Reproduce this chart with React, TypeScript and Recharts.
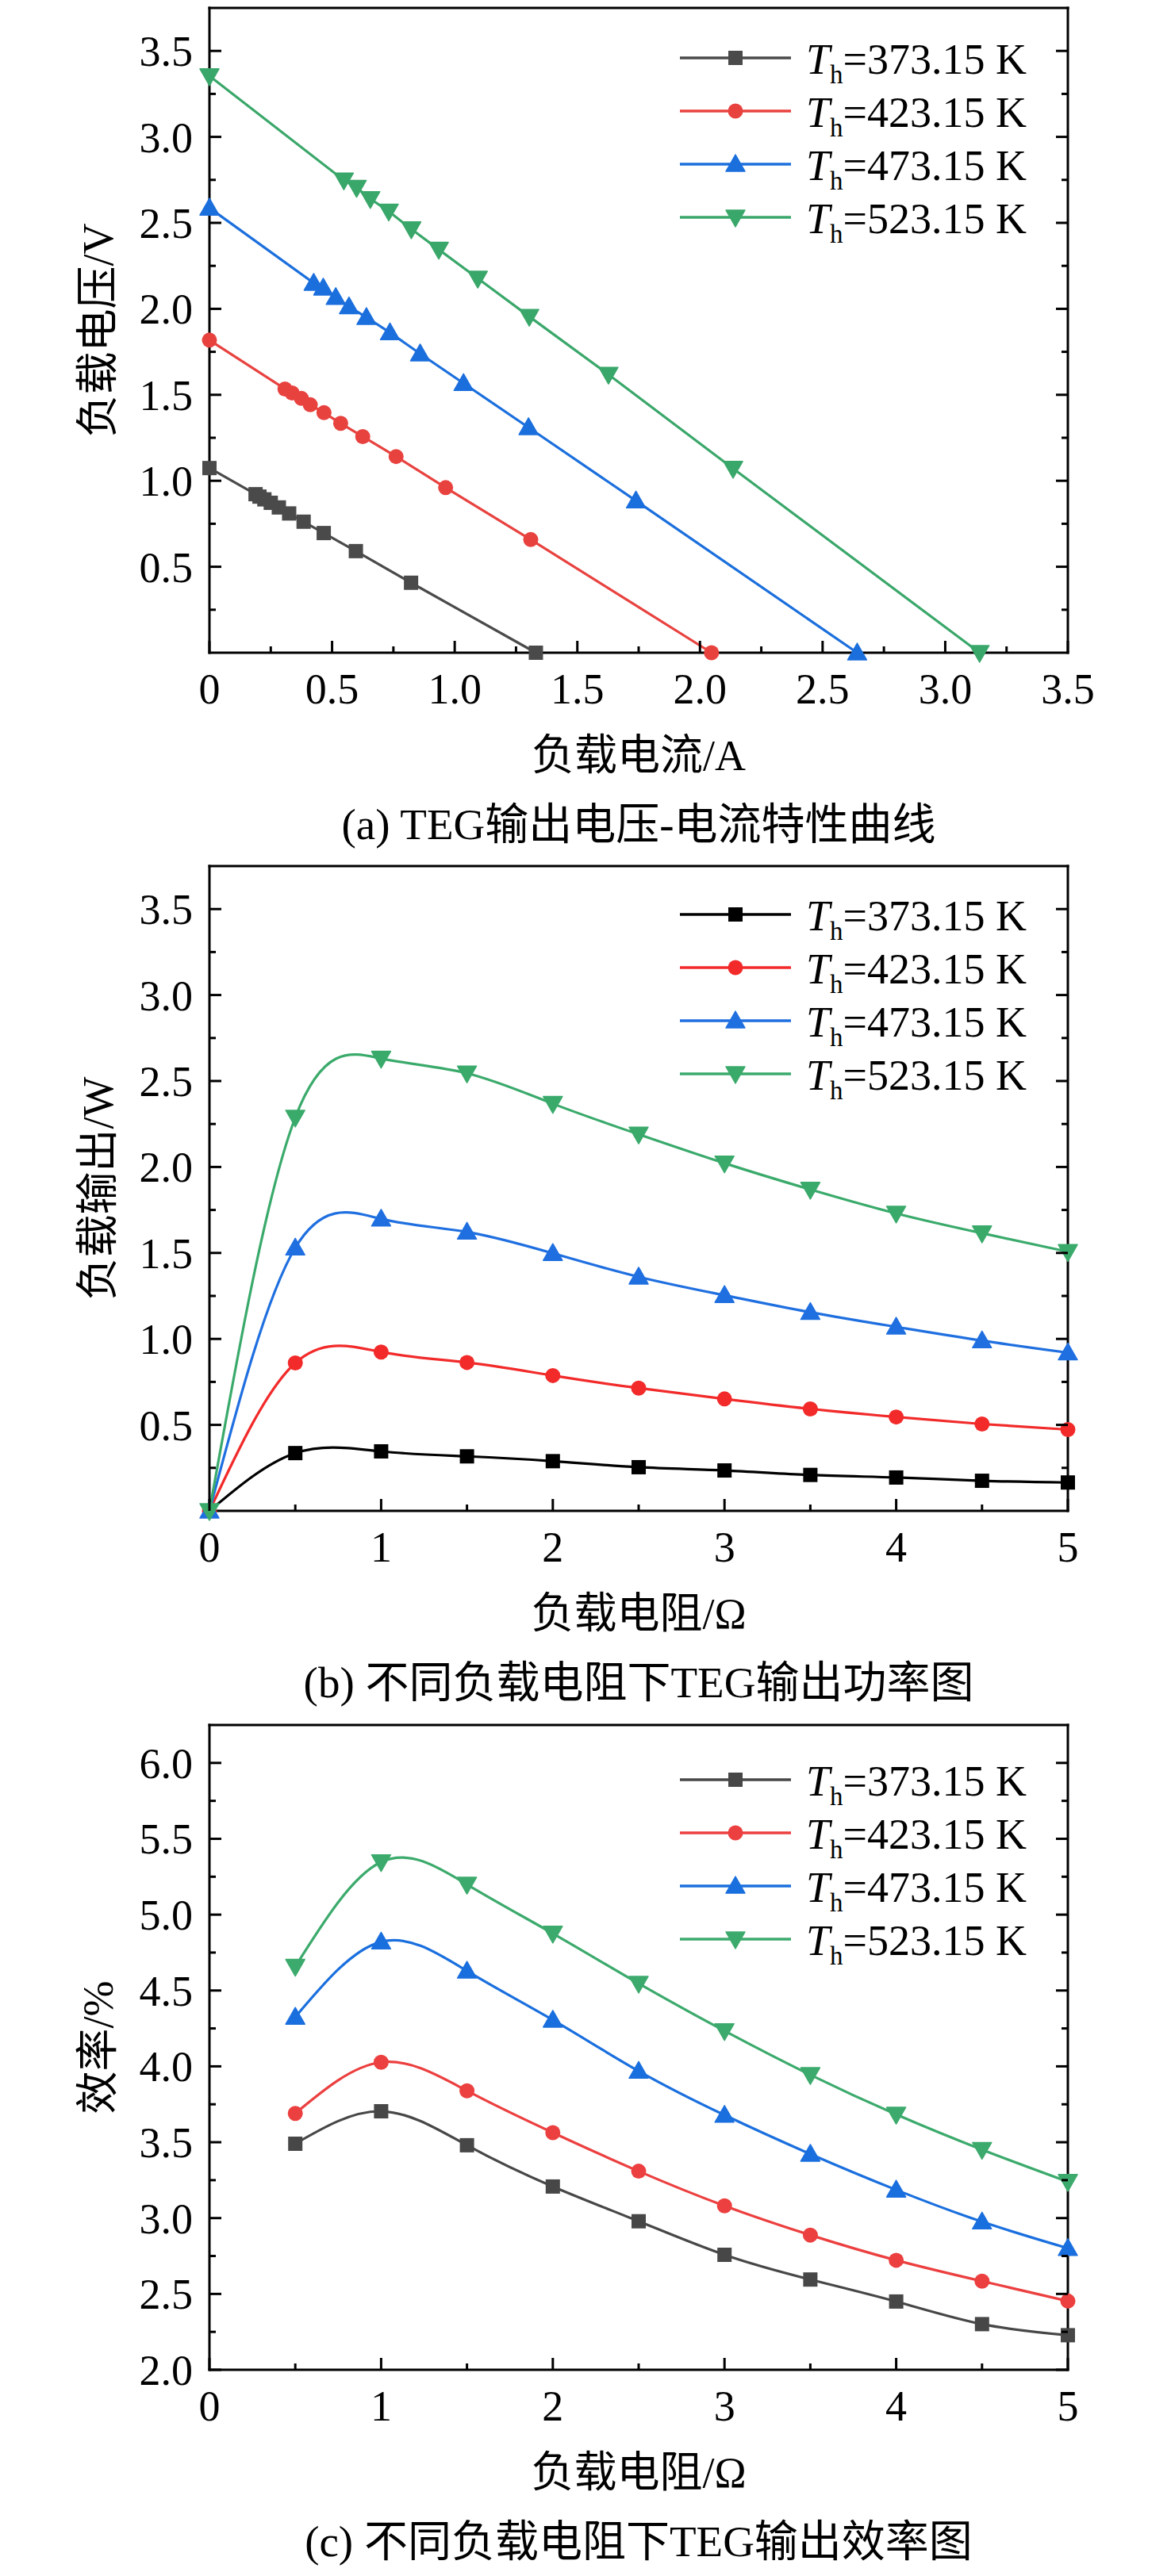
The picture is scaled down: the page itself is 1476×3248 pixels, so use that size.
import React from 'react';
import { LineChart, Line, XAxis, YAxis, Legend, Label } from 'recharts';

const FONT_LATIN = "'Liberation Serif', 'Times New Roman', serif";
const FONT_MIX = "'Liberation Serif', 'Noto Sans CJK SC', serif";

const seriesNames = ['373.15', '423.15', '473.15', '523.15'];
const shapes = ['square', 'circle', 'triUp', 'triDown'];
const colorsA = ['#4a4a4a', '#e8423f', '#1b6fdd', '#3aa76a'];
const colorsB = ['#000000', '#f22a2a', '#1f6fe0', '#3aaa6b'];
const colorsC = ['#474747', '#ec3f3f', '#1a6fde', '#3caa6c'];

// Panel (a): load current (A) vs load voltage (V)
const aCurrent373 = [0, 0.188, 0.204, 0.224, 0.25, 0.283, 0.325, 0.384, 0.466, 0.597, 0.822, 1.331];
const aVoltage373 = [1.074, 0.922, 0.908, 0.892, 0.872, 0.845, 0.81, 0.762, 0.696, 0.591, 0.407, 0];
const aCurrent423 = [0, 0.308, 0.337, 0.375, 0.411, 0.467, 0.535, 0.625, 0.761, 0.963, 1.31, 2.047];
const aVoltage423 = [1.818, 1.534, 1.511, 1.479, 1.442, 1.396, 1.334, 1.257, 1.141, 0.96, 0.658, 0];
const aCurrent473 = [0, 0.425, 0.464, 0.515, 0.569, 0.64, 0.736, 0.859, 1.036, 1.301, 1.739, 2.641];
const aVoltage473 = [2.587, 2.15, 2.122, 2.067, 2.013, 1.951, 1.862, 1.739, 1.567, 1.31, 0.884, 0];
const aCurrent523 = [0, 0.548, 0.6, 0.656, 0.731, 0.823, 0.935, 1.094, 1.304, 1.627, 2.135, 3.14];
const aVoltage523 = [3.354, 2.748, 2.705, 2.64, 2.567, 2.464, 2.345, 2.177, 1.955, 1.618, 1.071, 0];

// Panel (b): load resistance vs output power
const bResistance = [0, 0.5, 1, 1.5, 2, 2.5, 3, 3.5, 4, 4.5, 5];
const bPower373 = [0, 0.336, 0.346, 0.317, 0.289, 0.254, 0.235, 0.209, 0.194, 0.175, 0.165];
const bPower423 = [0, 0.86, 0.924, 0.863, 0.787, 0.714, 0.651, 0.593, 0.546, 0.505, 0.473];
const bPower473 = [0, 1.53, 1.698, 1.622, 1.498, 1.361, 1.254, 1.155, 1.07, 0.99, 0.92];
const bPower523 = [0, 2.288, 2.631, 2.545, 2.368, 2.19, 2.022, 1.869, 1.73, 1.615, 1.507];

// Panel (c): load resistance vs efficiency
const cResistance = [0.5, 1, 1.5, 2, 2.5, 3, 3.5, 4, 4.5, 5];
const cEff373 = [3.49, 3.704, 3.48, 3.208, 2.979, 2.758, 2.595, 2.45, 2.301, 2.228];
const cEff423 = [3.69, 4.027, 3.839, 3.563, 3.309, 3.081, 2.888, 2.722, 2.584, 2.453];
const cEff473 = [4.325, 4.821, 4.629, 4.306, 3.969, 3.679, 3.422, 3.186, 2.976, 2.801];
const cEff523 = [4.658, 5.347, 5.199, 4.876, 4.546, 4.234, 3.944, 3.683, 3.451, 3.24];

// Tick values
const aXMajor = [0, 0.5, 1, 1.5, 2, 2.5, 3, 3.5];
const aXMinor = [0.25, 0.75, 1.25, 1.75, 2.25, 2.75, 3.25];
const aYMajor = [0.5, 1, 1.5, 2, 2.5, 3, 3.5];
const aYMinor = [0.25, 0.75, 1.25, 1.75, 2.25, 2.75, 3.25];
const bXMajor = [0, 1, 2, 3, 4, 5];
const bXMinor = [0.5, 1.5, 2.5, 3.5, 4.5];
const bYMajor = [0.5, 1, 1.5, 2, 2.5, 3, 3.5];
const bYMinor = [0.25, 0.75, 1.25, 1.75, 2.25, 2.75, 3.25];
const cXMajor = [0, 1, 2, 3, 4, 5];
const cXMinor = [0.5, 1.5, 2.5, 3.5, 4.5];
const cYMajor = [2, 2.5, 3, 3.5, 4, 4.5, 5, 5.5, 6];
const cYMinor = [2.25, 2.75, 3.25, 3.75, 4.25, 4.75, 5.25, 5.75];

const zip = (xs: number[], ys: number[]) => xs.map((x, i) => ({ x, y: ys[i] }));

const W = 1476;
const H = 1080;
// axes take 1px each, so plot box = x 264..1346, y 10..823
const MARGIN = { top: 9, right: 129, bottom: 256, left: 263 };

function Marker({ cx, cy, shape, color }: any) {
  if (cx == null || cy == null || isNaN(cx) || isNaN(cy)) return null;
  if (shape === 'square') {
    return <rect x={cx - 9} y={cy - 9} width={18} height={18} fill={color} />;
  }
  if (shape === 'circle') {
    return <circle cx={cx} cy={cy} r={9.5} fill={color} />;
  }
  if (shape === 'triUp') {
    return (
      <polygon
        points={`${cx},${cy - 12} ${cx - 12},${cy + 9} ${cx + 12},${cy + 9}`}
        fill={color}
        stroke={color}
        strokeWidth={1.5}
        strokeLinejoin="round"
      />
    );
  }
  return (
    <polygon
      points={`${cx},${cy + 12} ${cx - 12},${cy - 9} ${cx + 12},${cy - 9}`}
      fill={color}
      stroke={color}
      strokeWidth={1.5}
      strokeLinejoin="round"
    />
  );
}

type Orient = 'bottom' | 'left' | 'top' | 'right';

const makeTick = (orient: Orient, majors: number[], fmt?: (v: number) => string) => (props: any) => {
  const { x, y, payload, index } = props;
  const v = Number(payload && payload.value);
  const major = majors.some((m) => Math.abs(m - v) < 1e-6);
  const len = major ? 15 : 8;
  let x2 = x;
  let y2 = y;
  if (orient === 'bottom') y2 = y - len;
  if (orient === 'top') y2 = y + len;
  if (orient === 'left') x2 = x + len;
  if (orient === 'right') x2 = x - len;
  let label: any = null;
  if (major && fmt) {
    if (orient === 'bottom') {
      label = (
        <text x={x} y={y + 64} textAnchor="middle" fontFamily={FONT_LATIN} fontSize={54} fill="#000">
          {fmt(v)}
        </text>
      );
    } else if (orient === 'left') {
      label = (
        <text x={x - 21} y={y + 19} textAnchor="end" fontFamily={FONT_LATIN} fontSize={54} fill="#000">
          {fmt(v)}
        </text>
      );
    }
  }
  return (
    <g key={`t-${orient}-${index}`}>
      <line x1={x} y1={y} x2={x2} y2={y2} stroke="#000" strokeWidth={3} />
      {label}
    </g>
  );
};

const xLabelContent = (title: string, caption: string) => (props: any) => {
  const vb = props.viewBox || { x: 264, y: 823, width: 1082, height: 1 };
  const cx = vb.x + vb.width / 2;
  const base = vb.y;
  return (
    <g>
      <text x={cx} y={base + 148} textAnchor="middle" fontFamily={FONT_MIX} fontSize={54} fill="#000">
        {title}
      </text>
      <text x={cx} y={base + 235} textAnchor="middle" fontFamily={FONT_MIX} fontSize={55} fill="#000">
        {caption}
      </text>
    </g>
  );
};

const yLabelContent = (title: string) => (props: any) => {
  const vb = props.viewBox || { x: 263, y: 10, width: 1, height: 813 };
  const bx = vb.x + vb.width - 122.5;
  const cy = vb.y + vb.height / 2;
  return (
    <text
      x={bx}
      y={cy}
      textAnchor="middle"
      fontFamily={FONT_MIX}
      fontSize={54}
      fill="#000"
      transform={`rotate(-90, ${bx}, ${cy})`}
    >
      {title}
    </text>
  );
};

const legendContent = (colors: string[]) => (props: any) => {
  const payload = props.payload || [];
  return (
    <svg width={480} height={290} style={{ display: 'block', overflow: 'visible' }}>
      {payload.map((item: any, i: number) => {
        const idx = seriesNames.indexOf(String(item.value));
        const k = idx >= 0 ? idx : i;
        const color = colors[k];
        const cy = 33 + i * 67;
        return (
          <g key={`lg-${i}`}>
            <line x1={7} y1={cy} x2={147} y2={cy} stroke={color} strokeWidth={3.5} />
            <Marker cx={77} cy={cy} shape={shapes[k]} color={color} />
            <text x={166} y={cy + 20} fontFamily={FONT_LATIN} fontSize={54} fill="#000">
              <tspan fontStyle="italic">T</tspan>
              <tspan fontSize={33} dy={12}>h</tspan>
              <tspan dy={-12}>{`=${seriesNames[k]} K`}</tspan>
            </text>
          </g>
        );
      })}
    </svg>
  );
};

const fmtA = (v: number) => (v === 0 ? '0' : v.toFixed(1));
const fmtInt = (v: number) => String(Math.round(v));
const fmt1 = (v: number) => v.toFixed(1);

interface PanelProps {
  series: { x: number; y: number }[][];
  colors: string[];
  curve: 'linear' | 'natural';
  xDomain: [number, number];
  yDomain: [number, number];
  xMajor: number[];
  xMinor: number[];
  yMajor: number[];
  yMinor: number[];
  xFmt: (v: number) => string;
  yFmt: (v: number) => string;
  xTitle: string;
  yTitle: string;
  caption: string;
  legendTop: number;
}

function Panel(p: PanelProps) {
  const xTicks = [...p.xMajor, ...p.xMinor].sort((a, b) => a - b);
  const yTicks = [...p.yMajor, ...p.yMinor].sort((a, b) => a - b);
  const axisLine = { stroke: '#000', strokeWidth: 3, strokeLinecap: 'square' as const };
  return (
    <LineChart width={W} height={H} margin={MARGIN}>
      <XAxis
        xAxisId="main"
        type="number"
        dataKey="x"
        orientation="bottom"
        domain={p.xDomain}
        ticks={xTicks}
        interval={0}
        height={1}
        tickSize={0}
        tickMargin={0}
        tickLine={false}
        axisLine={axisLine}
        tick={makeTick('bottom', p.xMajor, p.xFmt)}
      >
        <Label content={xLabelContent(p.xTitle, p.caption)} />
      </XAxis>
      <XAxis
        xAxisId="top"
        type="number"
        orientation="top"
        domain={p.xDomain}
        allowDataOverflow
        ticks={xTicks}
        interval={0}
        height={1}
        tickSize={0}
        tickMargin={0}
        tickLine={false}
        axisLine={axisLine}
        tick={makeTick('top', p.xMajor)}
      />
      <YAxis
        yAxisId="main"
        type="number"
        orientation="left"
        domain={p.yDomain}
        ticks={yTicks}
        interval={0}
        width={1}
        tickSize={0}
        tickMargin={0}
        tickLine={false}
        axisLine={axisLine}
        tick={makeTick('left', p.yMajor, p.yFmt)}
      >
        <Label content={yLabelContent(p.yTitle)} />
      </YAxis>
      <YAxis
        yAxisId="right"
        type="number"
        orientation="right"
        domain={p.yDomain}
        allowDataOverflow
        ticks={yTicks}
        interval={0}
        width={1}
        tickSize={0}
        tickMargin={0}
        tickLine={false}
        axisLine={axisLine}
        tick={makeTick('right', p.yMajor)}
      />
      <Legend
        layout="vertical"
        align="center"
        verticalAlign="middle"
        wrapperStyle={{ left: 850, top: p.legendTop, width: 480, height: 290 }}
        content={legendContent(p.colors)}
      />
      {p.series.map((data, i) => (
        <Line
          key={seriesNames[i]}
          name={seriesNames[i]}
          xAxisId="main"
          yAxisId="main"
          data={data}
          dataKey="y"
          type={p.curve}
          stroke={p.colors[i]}
          strokeWidth={3.2}
          isAnimationActive={false}
          activeDot={false}
          dot={(dp: any) => (
            <Marker key={`m-${i}-${dp.index}`} cx={dp.cx} cy={dp.cy} shape={shapes[i]} color={p.colors[i]} />
          )}
        />
      ))}
    </LineChart>
  );
}

export default function App() {
  const seriesA = [
    zip(aCurrent373, aVoltage373),
    zip(aCurrent423, aVoltage423),
    zip(aCurrent473, aVoltage473),
    zip(aCurrent523, aVoltage523),
  ];
  const seriesB = [
    zip(bResistance, bPower373),
    zip(bResistance, bPower423),
    zip(bResistance, bPower473),
    zip(bResistance, bPower523),
  ];
  const seriesC = [
    zip(cResistance, cEff373),
    zip(cResistance, cEff423),
    zip(cResistance, cEff473),
    zip(cResistance, cEff523),
  ];
  return (
    <div style={{ position: 'absolute', left: 0, top: 0, width: 1476, height: 3248, background: '#fff' }}>
      <div style={{ position: 'absolute', left: 0, top: 0 }}>
        <Panel
          series={seriesA}
          colors={colorsA}
          curve="linear"
          xDomain={[0, 3.5]}
          yDomain={[0, 3.75]}
          xMajor={aXMajor}
          xMinor={aXMinor}
          yMajor={aYMajor}
          yMinor={aYMinor}
          xFmt={fmtA}
          yFmt={fmt1}
          xTitle="负载电流/A"
          yTitle="负载电压/V"
          caption="(a) TEG输出电压-电流特性曲线"
          legendTop={40}
        />
      </div>
      <div style={{ position: 'absolute', left: 0, top: 1082 }}>
        <Panel
          series={seriesB}
          colors={colorsB}
          curve="natural"
          xDomain={[0, 5]}
          yDomain={[0, 3.75]}
          xMajor={bXMajor}
          xMinor={bXMinor}
          yMajor={bYMajor}
          yMinor={bYMinor}
          xFmt={fmtInt}
          yFmt={fmt1}
          xTitle="负载电阻/Ω"
          yTitle="负载输出/W"
          caption="(b) 不同负载电阻下TEG输出功率图"
          legendTop={38}
        />
      </div>
      <div style={{ position: 'absolute', left: 0, top: 2165 }}>
        <Panel
          series={seriesC}
          colors={colorsC}
          curve="natural"
          xDomain={[0, 5]}
          yDomain={[2, 6.25]}
          xMajor={cXMajor}
          xMinor={cXMinor}
          yMajor={cYMajor}
          yMinor={cYMinor}
          xFmt={fmtInt}
          yFmt={fmt1}
          xTitle="负载电阻/Ω"
          yTitle="效率/%"
          caption="(c) 不同负载电阻下TEG输出效率图"
          legendTop={46}
        />
      </div>
    </div>
  );
}
